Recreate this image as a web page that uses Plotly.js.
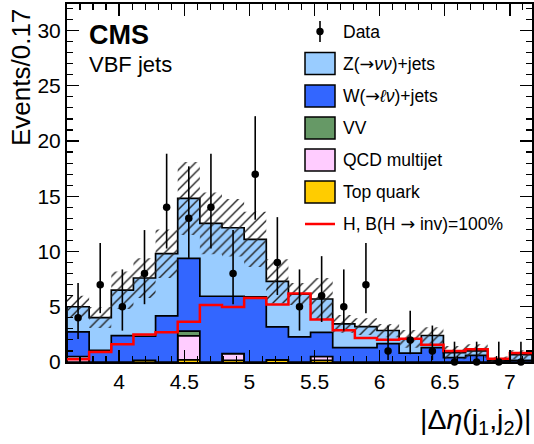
<!DOCTYPE html>
<html>
<head>
<meta charset="utf-8">
<script src="https://cdn.plot.ly/plotly-3.0.1.min.js"></script>
<style>html,body{margin:0;padding:0;background:#fff;}#chart{width:534px;height:444px;}</style>
</head>
<body>
<div id="chart"></div>
<script>
// ---- data ----
const binEdges = [3.60,3.77,3.94,4.11,4.28,4.45,4.62,4.79,4.96,5.13,5.30,5.47,5.64,5.81,5.98,6.15,6.32,6.49,6.66,6.83,7.00,7.17];
const dataCounts  = [4,7,5,8,14,13,14,8,17,9,5,6,5,7,1,2,1,0,0,0,0];
const dataErrUp   = [3.16,3.77,3.38,3.94,4.85,4.71,4.85,3.94,5.25,4.11,3.38,3.58,3.38,3.77,2.30,2.64,2.30,1.84,1.84,1.84,1.84];
const dataErrDown = [1.91,2.58,2.16,2.77,3.73,3.58,3.73,2.77,4.12,2.94,2.16,2.38,2.16,2.58,0.83,1.29,0.83,0,0,0,0];
const topQuark    = [0,0,0,0.15,0,0.2,0,0.15,0,0.2,0,0.15,0,0,0,0,0,0,0,0,0];
const qcdMultijet = [0.5,0,0,0,0,2.16,0,0.6,0,0,0,0.35,0,0,0,0,0,0,0,0,0];
const dibosonVV   = [0,0,0,0,0,0.44,0,0,0,0,0,0,0,0,0,0,0,0,0,0,0];
const wJets       = [2.22,1.06,2.39,2.18,4.17,6.57,5.95,5.2,5.9,2.97,2.27,2.19,1.3,1.3,1.66,0.8,1.3,0.39,0.6,0.1,0.15];
const zJets       = [2.28,2.96,4.11,5.27,5.63,5.43,6.6,6.2,5.2,4.13,3.88,3.01,2.15,1.9,1.19,1.3,1.1,0.46,0.4,0.1,0.51];
const signalH     = [0.25,0.9,1.6,2.5,2.7,3.65,5.15,4.98,5.8,5.2,6.2,3.85,2.87,2.17,2.02,2.11,1.57,1.0,1.15,0.3,0.82];
const bkgUnc      = [1.0,0.95,1.7,1.8,2.2,3.3,2.8,2.6,2.5,2.0,1.0,1.9,0.8,0.75,0.6,0.8,0.75,0.6,0.6,0.3,0.4];

const stackNames  = ['Top quark','QCD multijet','VV','W(\u2192\u2113\u03bd)+jets','Z(\u2192\u03bd\u03bd)+jets'];
const stackVals   = [topQuark, qcdMultijet, dibosonVV, wJets, zJets];
const stackColors = ['#ffcc00','#ffccff','#669966','#3366ff','#99ccff'];

// ---- helpers ----
const nb = binEdges.length - 1;
const centers = binEdges.slice(0, nb).map((e, i) => (e + binEdges[i + 1]) / 2);
function stepClosed(v) {
  const xs = [binEdges[0]], ys = [0];
  for (let i = 0; i < nb; i++) { xs.push(binEdges[i]); ys.push(v[i]); }
  xs.push(binEdges[nb]); ys.push(v[nb - 1]);
  xs.push(binEdges[nb]); ys.push(0);
  return {x: xs, y: ys};
}
function stepOpen(v) {
  const xs = [], ys = [];
  for (let i = 0; i < nb; i++) { xs.push(binEdges[i]); ys.push(v[i]); }
  xs.push(binEdges[nb]); ys.push(v[nb - 1]);
  return {x: xs, y: ys};
}

const traces = [];
let cum = new Array(nb).fill(0);
stackVals.forEach((vals, k) => {
  cum = cum.map((c, i) => c + vals[i]);
  const s = stepClosed(cum);
  traces.push({
    type: 'scatter', mode: 'lines', x: s.x, y: s.y,
    line: {shape: 'hv', color: '#000', width: 1.7},
    fill: k === 0 ? 'tozeroy' : 'tonexty', fillcolor: stackColors[k],
    name: stackNames[k], showlegend: false, hoverinfo: 'skip'
  });
});
const total = cum;
const lo = stepOpen(total.map((t, i) => t - bkgUnc[i]));
const hi = stepOpen(total.map((t, i) => t + bkgUnc[i]));
traces.push({type: 'scatter', mode: 'lines', x: lo.x, y: lo.y, line: {shape: 'hv', width: 0}, showlegend: false, hoverinfo: 'skip'});
traces.push({type: 'scatter', mode: 'lines', x: hi.x, y: hi.y, line: {shape: 'hv', width: 0},
  fill: 'tonexty', fillcolor: 'rgba(0,0,0,0)',
  fillpattern: {shape: '/', fgcolor: '#222', bgcolor: 'rgba(0,0,0,0)', size: 7, solidity: 0.2},
  showlegend: false, hoverinfo: 'skip'});
const sg = stepOpen(signalH);
traces.push({type: 'scatter', mode: 'lines', x: sg.x, y: sg.y, line: {shape: 'hv', color: '#ff0000', width: 2.5},
  name: 'H, B(H \u2192 inv)=100%', showlegend: false});
traces.push({type: 'scatter', mode: 'markers', x: centers, y: dataCounts, cliponaxis: false,
  marker: {color: '#000', size: 7.5, symbol: 'circle'},
  error_y: {type: 'data', symmetric: false, array: dataErrUp, arrayminus: dataErrDown, color: '#000', thickness: 1.6, width: 0},
  name: 'Data', showlegend: false});

// ---- layout ----
const L = 67, R = 532, T = 4, B = 362;
const px = p => (p - L) / (R - L);
const py = p => (B - p) / (B - T);
const FONT = 'Liberation Sans, Arial, Helvetica, sans-serif';
const ARROW = '<span style="font-family:DejaVu Sans">\u2192</span>';

const shapes = [], annotations = [];
const legendRows = [
  {label: 'Z(' + ARROW + '<i>\u03bd\u03bd</i>)+jets', color: stackColors[4], y: 63.5},
  {label: 'W(' + ARROW + '<i>\u2113\u03bd</i>)+jets', color: stackColors[3], y: 96},
  {label: 'VV', color: stackColors[2], y: 128},
  {label: 'QCD multijet', color: stackColors[1], y: 160},
  {label: 'Top quark', color: stackColors[0], y: 192}
];
legendRows.forEach(r => {
  shapes.push({type: 'rect', xref: 'paper', yref: 'paper', x0: px(305), x1: px(335), y0: py(r.y + 11), y1: py(r.y - 11),
    fillcolor: r.color, line: {color: '#000', width: 1.5}});
  annotations.push({xref: 'paper', yref: 'paper', x: px(341), y: py(r.y), xanchor: 'left', yanchor: 'middle',
    text: r.label, showarrow: false, font: {family: FONT, size: 17.5, color: '#000'}});
});
// Data legend entry
shapes.push({type: 'line', xref: 'paper', yref: 'paper', x0: px(320), x1: px(320), y0: py(42), y1: py(21), line: {color: '#000', width: 1.6}});
shapes.push({type: 'circle', xref: 'paper', yref: 'paper', xsizemode: 'pixel', ysizemode: 'pixel', xanchor: px(320), yanchor: py(31.5),
  x0: -3.7, x1: 3.7, y0: -3.7, y1: 3.7, fillcolor: '#000', line: {color: '#000', width: 0}});
annotations.push({xref: 'paper', yref: 'paper', x: px(341), y: py(31.5), xanchor: 'left', yanchor: 'middle',
  text: 'Data', showarrow: false, font: {family: FONT, size: 17.5, color: '#000'}});
// signal legend entry
shapes.push({type: 'line', xref: 'paper', yref: 'paper', x0: px(305), x1: px(335), y0: py(224), y1: py(224), line: {color: '#ff0000', width: 2.5}});
annotations.push({xref: 'paper', yref: 'paper', x: px(341), y: py(224), xanchor: 'left', yanchor: 'middle',
  text: 'H, B(H ' + ARROW + ' inv)=100%', showarrow: false, font: {family: FONT, size: 17.5, color: '#000'}});
// CMS labels
annotations.push({xref: 'paper', yref: 'paper', x: px(87), y: py(35), xanchor: 'left', yanchor: 'middle',
  text: '<b>CMS</b>', showarrow: false, font: {family: FONT, size: 27, color: '#000'}});
annotations.push({xref: 'paper', yref: 'paper', x: px(87), y: py(64), xanchor: 'left', yanchor: 'middle',
  text: 'VBF jets', showarrow: false, font: {family: FONT, size: 22, color: '#000'}});
// axis titles
annotations.push({xref: 'paper', yref: 'paper', x: px(21), y: py(78), xanchor: 'center', yanchor: 'middle', textangle: -90,
  text: 'Events/0.17', showarrow: false, font: {family: FONT, size: 26, color: '#000'}});
annotations.push({xref: 'paper', yref: 'paper', x: px(533), y: py(421), xanchor: 'right', yanchor: 'middle',
  text: '|\u0394<i>\u03b7</i>(j<sub>1</sub>,j<sub>2</sub>)|', showarrow: false, font: {family: FONT, size: 28.5, color: '#000'}});

const axisCommon = {
  showline: true, linecolor: '#000', linewidth: 2, mirror: 'allticks',
  ticks: 'inside', ticklen: 12, tickwidth: 1.4, tickcolor: '#000',
  showgrid: false, zeroline: false,
  tickfont: {family: FONT, size: 21, color: '#000'}
};
const layout = {
  width: 534, height: 444,
  margin: {l: L, r: 534 - R, t: T, b: 444 - B},
  paper_bgcolor: '#fff', plot_bgcolor: '#fff',
  showlegend: false,
  xaxis: Object.assign({}, axisCommon, {range: [binEdges[0], binEdges[nb]], tickmode: 'linear', tick0: 3.5, dtick: 0.5,
    minor: {ticks: 'inside', ticklen: 6, tickwidth: 1.2, tickcolor: '#000', tick0: 3.6, dtick: 0.1, showgrid: false}}),
  yaxis: Object.assign({}, axisCommon, {range: [0, 32.4], tickmode: 'linear', tick0: 0, dtick: 5,
    minor: {ticks: 'inside', ticklen: 6, tickwidth: 1.2, tickcolor: '#000', tick0: 0, dtick: 1, showgrid: false}}),
  shapes: shapes, annotations: annotations
};
Plotly.newPlot('chart', traces, layout, {displayModeBar: false, staticPlot: true});
</script>
</body>
</html>
